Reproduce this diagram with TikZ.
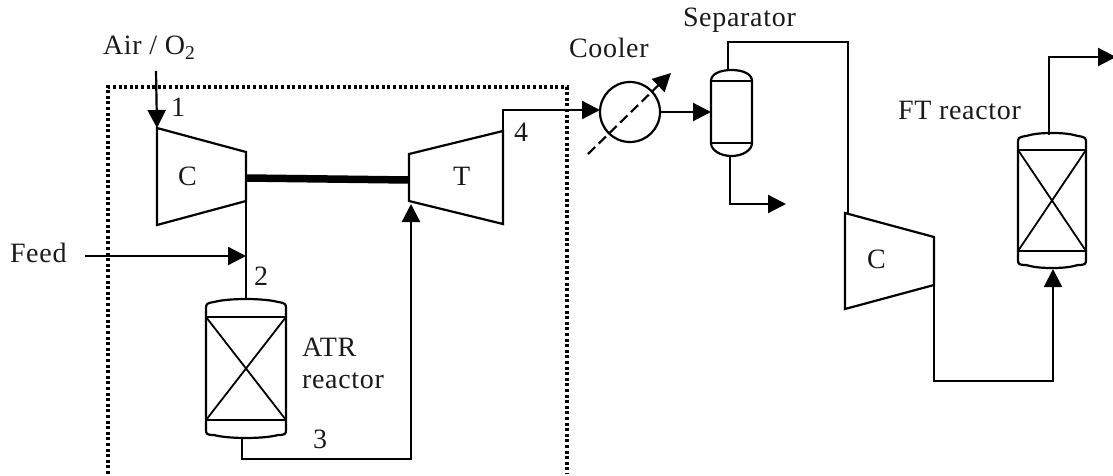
\documentclass[tikz,border=0pt]{standalone}
\usepackage{fontspec}
\setmainfont[LetterSpace=2.5]{Liberation Serif}
\usetikzlibrary{arrows.meta}
\tikzset{
  pipe/.style={line width=2.2pt,line join=miter},
  flow/.style={pipe,-{Triangle[length=18pt,width=18pt]}},
  unit/.style={line width=2.2pt,line join=miter},
  thin unit/.style={line width=1.8pt},
  lab/.style={anchor=base west,inner sep=0pt,outer sep=0pt,font=\fontsize{28}{30}\selectfont,text=black!90},
  envelope/.style={line width=3.2pt,dash pattern=on 3pt off 2.6pt},
}
% reactor: {left}{right}{apex top}{shoulder top}{band top}{band bottom}{shoulder bottom}{apex bottom}
\newcommand{\reactorshape}[8]{%
  \draw[unit] (#1,#4) .. controls (#1,#4-4) and (#1+1,#4-5) .. (#1+8,#3+3)
     .. controls (#1+15,#3+1) and ({(#1+#2)/2-12},#3) .. ({(#1+#2)/2},#3)
     .. controls ({(#1+#2)/2+12},#3) and (#2-15,#3+1) .. (#2-8,#3+3)
     .. controls (#2-1,#4-5) and (#2,#4-4) .. (#2,#4) -- (#2,#7)
     .. controls (#2,#7+4) and (#2-1,#7+5) .. (#2-8,#8-3)
     .. controls (#2-15,#8-1) and ({(#1+#2)/2+12},#8) .. ({(#1+#2)/2},#8)
     .. controls ({(#1+#2)/2-12},#8) and (#1+15,#8-1) .. (#1+8,#8-3)
     .. controls (#1+1,#7+5) and (#1,#7+4) .. (#1,#7) -- cycle;
  \draw[unit,line width=2.6pt] (#1,#5) -- (#2,#5) (#1,#6) -- (#2,#6);
  \draw[thin unit] (#1,#5) -- (#2,#6) (#2,#5) -- (#1,#6);
}
\begin{document}
\begin{tikzpicture}[x=1pt,y=-1pt]
\useasboundingbox (0,0) rectangle (1113,476);
\clip (0,0) rectangle (1113,476);
% envelope
\draw[envelope] (108,474) -- (108,87) -- (567,87) -- (567,474);
% compressor 1
\coordinate (c1a) at (157,128);
\coordinate (c1b) at (246,152);
\coordinate (c1c) at (246,201);
\coordinate (c1d) at (157,225);
\draw[unit] (c1a) -- (c1b) -- (c1c) -- (c1d) -- cycle;
% turbine
\coordinate (ta) at (409,154);
\coordinate (tb) at (503,131);
\coordinate (tc) at (503,224);
\coordinate (td) at (409,201);
\draw[unit] (ta) -- (tb) -- (tc) -- (td) -- cycle;
% shaft
\coordinate (s1) at (246,178);
\coordinate (s2) at (409,180);
\draw[line width=7.5pt] (s1) -- (s2);
% ATR reactor
\reactorshape{206}{286}{299}{308}{317}{420}{430}{438}
\coordinate (atrtop) at (246,299);
\coordinate (atrbot) at (242,438);
% FT reactor
\reactorshape{1018}{1086}{133}{142}{150}{251}{260}{268}
\coordinate (fttop) at (1049,135);
\coordinate (ftbot) at (1053,269);
% Separator
\draw[unit] (711,81) .. controls (711,74) and (720,70) .. (731.5,70)
   .. controls (743,70) and (752,74) .. (752,81) -- (752,143)
   .. controls (752,150) and (743,156) .. (731.5,156)
   .. controls (720,156) and (711,150) .. (711,143) -- cycle;
\draw[unit] (711,81) -- (752,81) (711,143) -- (752,143);
\coordinate (septop) at (728,70);
\coordinate (sepbot) at (730,156);
\coordinate (sepin) at (711,112);
% cooler
\node[draw,circle,line width=2.2pt,minimum size=60pt,inner sep=0pt,outer sep=0pt] (cooler) at (630,112) {};
\coordinate (cd1) at (588,154);
\coordinate (cd2) at (671,73);
\draw[pipe,dash pattern=on 10pt off 5pt,-{Triangle[length=18pt,width=18pt]}] (cd1) -- (cd2);
% compressor 2
\coordinate (c2a) at (845,213);
\coordinate (c2b) at (934,237);
\coordinate (c2c) at (934,285);
\coordinate (c2d) at (845,309);
\draw[unit] (c2a) -- (c2b) -- (c2c) -- (c2d) -- cycle;
% free ends
\coordinate (airin) at (156,71);
\coordinate (feedin) at (85,256);
\coordinate (mix) at (246,256);
\coordinate (prod1) at (786,204);
\coordinate (prod2) at (1116,57);
% connectors
\draw[flow] (airin) -- (c1a);
\draw[pipe] (c1c) -- (atrtop);
\draw[flow] (feedin) -- (mix);
\draw[flow] (atrbot) |- (411,459) -- (411,204);
\draw[flow] (tb) -- (503,110) -- (cooler.west |- 0,110);
\draw[flow] (cooler.east) -- (sepin);
\draw[pipe] (septop) -- (728,42) -- (848,42) -- (848,214);
\draw[flow] (sepbot) |- (prod1);
\draw[flow] (c2c) -- (934,381) -- (1053,381) -- (ftbot);
\draw[flow] (fttop) -- (1049,57) -- (prod2);
% labels
\node[lab] (lair) at (103,55) {Air / O\textsubscript{2}};
\node[lab] (l1) at (171,117) {1};
\node[lab] (lc1) at (178,185) {C};
\node[lab] (lt) at (453,185) {T};
\node[lab] (l4) at (514,142) {4};
\node[lab] (lfeed) at (10,262) {Feed};
\node[lab] (l2) at (254,285) {2};
\node[lab] (latr) at (302,356) {ATR};
\node[lab] (lreac) at (302,388) {reactor};
\node[lab] (l3) at (313,448) {3};
\node[lab] (lcool) at (569,58) {Cooler};
\node[lab] (lsep) at (683,27) {Separator};
\node[lab] (lc2) at (867,268) {C};
\node[lab] (lft) at (898,120) {FT reactor};
\end{tikzpicture}
\end{document}
